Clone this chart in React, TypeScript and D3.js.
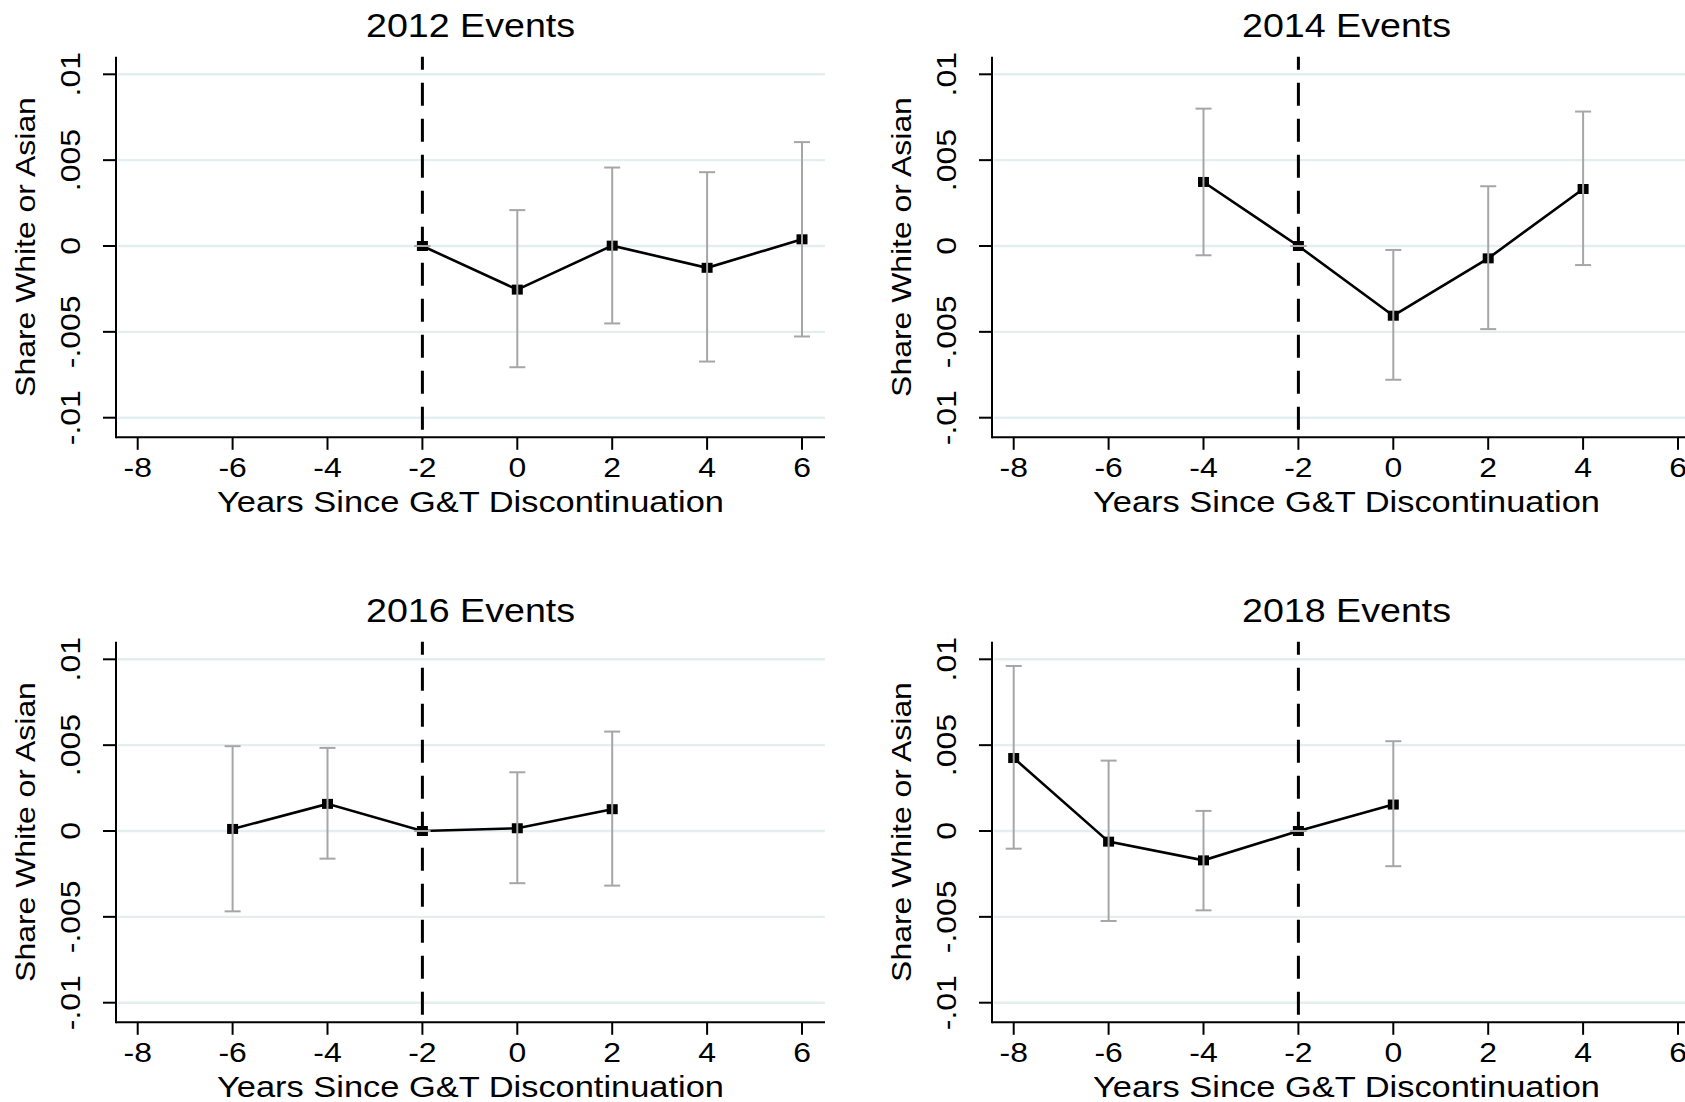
import React from 'react';
import * as d3 from 'd3';

// event-study estimates; the -2 year is the omitted reference (ci = 0)
const panelTitles = ['2012 Events', '2014 Events', '2016 Events', '2018 Events'];

const years2012 = [-2, 0, 2, 4, 6];
const est2012 = [0, -0.00254, 0.00002, -0.00127, 0.00039];
const lo2012 = [0, -0.00706, -0.00451, -0.00673, -0.00527];
const hi2012 = [0, 0.00209, 0.00457, 0.0043, 0.00605];

const years2014 = [-4, -2, 0, 2, 4];
const est2014 = [0.00373, 0, -0.00406, -0.00072, 0.00332];
const lo2014 = [-0.00054, 0, -0.00779, -0.00484, -0.00111];
const hi2014 = [0.0080, 0, -0.00023, 0.00348, 0.00783];

const years2016 = [-6, -4, -2, 0, 2];
const est2016 = [0.00012, 0.00158, 0, 0.00016, 0.00127];
const lo2016 = [-0.00468, -0.00161, 0, -0.00304, -0.00318];
const hi2016 = [0.00494, 0.00484, 0, 0.00342, 0.00579];

const years2018 = [-8, -6, -4, -2, 0];
const est2018 = [0.00425, -0.00062, -0.00171, 0, 0.00154];
const lo2018 = [-0.00103, -0.00524, -0.00462, 0, -0.00205];
const hi2018 = [0.00961, 0.0041, 0.00117, 0, 0.00523];

const xTicks = [-8, -6, -4, -2, 0, 2, 4, 6];
const yTicks = [-0.01, -0.005, 0, 0.005, 0.01];
const yTickLabels = ['-.01', '-.005', '0', '.005', '.01'];
const eventLine = -2;

const xTitle = 'Years Since G&T Discontinuation';
const yTitle = 'Share White or Asian';

const W = 1685;
const H = 1102;
const FONT = '"Liberation Sans", Arial, Helvetica, sans-serif';
const STRETCH = 1.14; // stata's glyphs come out wider than arial

const panels = [
  { title: panelTitles[0], t: years2012, est: est2012, lo: lo2012, hi: hi2012, dx: 0, dy: 0 },
  { title: panelTitles[1], t: years2014, est: est2014, lo: lo2014, hi: hi2014, dx: 876, dy: 0 },
  { title: panelTitles[2], t: years2016, est: est2016, lo: lo2016, hi: hi2016, dx: 0, dy: 585 },
  { title: panelTitles[3], t: years2018, est: est2018, lo: lo2018, hi: hi2018, dx: 876, dy: 585 },
];

const Txt = ({ x, y, rot = 0, size, children }) => (
  <text
    transform={`translate(${x},${y}) rotate(${rot}) scale(${STRETCH},1)`}
    textAnchor="middle"
    fontFamily={FONT}
    fontSize={size}
    fill="#000"
  >
    {children}
  </text>
);

const Panel = ({ p }) => {
  const left = 116, right = 825, top = 56.7, bottom = 437.3;

  const x = d3.scaleLinear().domain([-8, 6]).range([137.7, 802]);
  const y = d3.scaleLinear().domain([-0.01, 0.01]).range([417.7, 74.3]);

  const pts = p.t.map((t, i) => [t, p.est[i]]);
  const line = d3.line().x(d => x(d[0])).y(d => y(d[1]));
  const cx = (left + right) / 2;

  return (
    <g transform={`translate(${p.dx},${p.dy})`}>
      <Txt x={cx} y={36.7} size={33}>{p.title}</Txt>

      {/* grid */}
      {yTicks.map(v => (
        <line key={'g' + v} x1={left + 2} x2={right} y1={y(v)} y2={y(v)} stroke="#e4edf0" strokeWidth={2.4} />
      ))}

      {/* event line */}
      <line x1={x(eventLine)} x2={x(eventLine)} y1={top} y2={bottom} stroke="#000" strokeWidth={3} strokeDasharray="23,13" strokeDashoffset={10} />

      <path d={line(pts)} fill="none" stroke="#000" strokeWidth={2.6} strokeLinejoin="miter" />

      {pts.map((d, i) => (
        <rect key={'m' + i} x={x(d[0]) - 5.5} y={y(d[1]) - 5} width={11} height={10} fill="#000" />
      ))}

      {/* confidence intervals */}
      {p.t.map((t, i) => {
        const xx = x(t);
        return (
          <g key={'ci' + i} stroke="#a6a6a6" strokeWidth={2}>
            <line x1={xx} x2={xx} y1={y(p.hi[i])} y2={y(p.lo[i])} />
            <line x1={xx - 8} x2={xx + 8} y1={y(p.hi[i])} y2={y(p.hi[i])} />
            <line x1={xx - 8} x2={xx + 8} y1={y(p.lo[i])} y2={y(p.lo[i])} />
          </g>
        );
      })}

      {/* axes */}
      <line x1={left} x2={left} y1={top} y2={bottom + 1} stroke="#000" strokeWidth={2} />
      <line x1={left} x2={right} y1={bottom} y2={bottom} stroke="#000" strokeWidth={2} />
      {yTicks.map((v, i) => (
        <g key={'yt' + v}>
          <line x1={left - 13} x2={left} y1={y(v)} y2={y(v)} stroke="#000" strokeWidth={2} />
          <Txt x={80} y={y(v)} rot={-90} size={28}>{yTickLabels[i]}</Txt>
        </g>
      ))}
      {xTicks.map(v => (
        <g key={'xt' + v}>
          <line x1={x(v)} x2={x(v)} y1={bottom} y2={bottom + 12.5} stroke="#000" strokeWidth={2} />
          <Txt x={x(v)} y={477} size={28}>{String(v)}</Txt>
        </g>
      ))}

      <Txt x={35} y={(top + bottom) / 2} rot={-90} size={28}>{yTitle}</Txt>
      <Txt x={cx} y={512} size={30.2}>{xTitle}</Txt>
    </g>
  );
};

export default function App() {
  return (
    <svg
      width={W}
      height={H}
      style={{ position: 'absolute', left: 0, top: 0, background: '#fff' }}
    >
      <rect width={W} height={H} fill="#fff" />
      {panels.map(p => <Panel key={p.title} p={p} />)}
    </svg>
  );
}
